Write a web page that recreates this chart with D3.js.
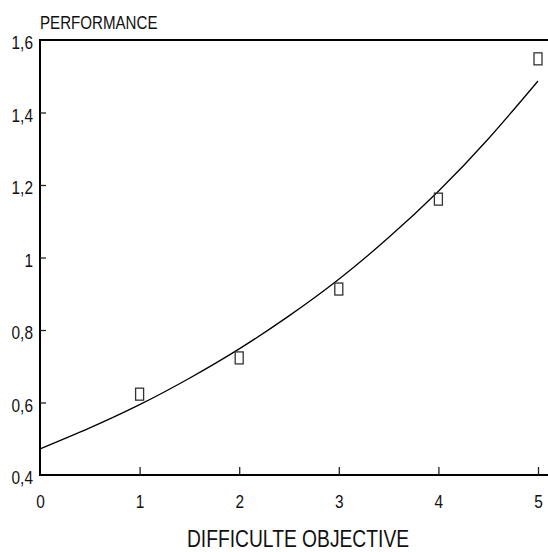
<!DOCTYPE html>
<html>
<head>
<meta charset="utf-8">
<script src="https://cdn.jsdelivr.net/npm/d3@7"></script>
<style>
  html, body { margin: 0; padding: 0; background: #fff; }
  svg { display: block; }
  text { font-family: "Liberation Sans", Arial, sans-serif; fill: #111; }
</style>
</head>
<body>
<div id="chart"></div>
<script>
// Observed performance for each objective difficulty level
const difficulty = [1, 2, 3, 4, 5];
const performance = [0.623, 0.723, 0.913, 1.161, 1.548];

// Fitted trend curve, sampled along the difficulty axis
const fitX = [0, 0.5, 1, 1.5, 2, 2.5, 3, 3.5, 4, 4.5, 5];
const fitY = [0.472, 0.530, 0.594, 0.667, 0.748, 0.839, 0.940, 1.055, 1.183, 1.327, 1.487];

// Axis ticks and their labels
const xTicks = [0, 1, 2, 3, 4, 5];
const xTickLabels = ["0", "1", "2", "3", "4", "5"];
const yTicks = [0.4, 0.6, 0.8, 1.0, 1.2, 1.4, 1.6];
const yTickLabels = ["0,4", "0,6", "0,8", "1", "1,2", "1,4", "1,6"];

const W = 548, H = 552;
const plot = { left: 40, right: 538, top: 40, bottom: 475 };

const svg = d3.select("#chart").append("svg")
  .attr("width", W).attr("height", H);

const x = d3.scaleLinear().domain([0, 5]).range([plot.left, plot.right]);
const y = d3.scaleLinear().domain([0.4, 1.6]).range([plot.bottom, plot.top]);

// Frame lines: left, bottom and top, running out to the page edge
const frame = svg.append("g").attr("stroke", "#000").attr("stroke-width", 2).attr("fill", "none");
frame.append("line").attr("x1", plot.left).attr("x2", plot.left).attr("y1", plot.top - 1).attr("y2", plot.bottom + 1);
frame.append("line").attr("x1", plot.left - 1).attr("x2", W).attr("y1", plot.bottom).attr("y2", plot.bottom);
frame.append("line").attr("x1", plot.left - 1).attr("x2", W).attr("y1", plot.top).attr("y2", plot.top);

// X axis: inward ticks, condensed labels below
const xAxis = d3.axisBottom(x)
  .tickValues(xTicks)
  .tickFormat((d, i) => xTickLabels[i])
  .tickSizeInner(0).tickSizeOuter(0).tickPadding(0);
const gx = svg.append("g").attr("transform", `translate(0,${plot.bottom})`).call(xAxis);
gx.select(".domain").remove();
gx.selectAll(".tick line")
  .attr("y1", 0).attr("y2", d => d === 0 ? 0 : -8)
  .attr("stroke", "#222").attr("stroke-width", 1.3);
gx.selectAll(".tick text")
  .attr("y", 33).attr("dy", null)
  .attr("transform", "scale(0.88,1)")
  .attr("font-size", 17.5).attr("fill", "#111");

// Y axis: inward ticks, condensed labels to the left
const yAxis = d3.axisLeft(y)
  .tickValues(yTicks)
  .tickFormat((d, i) => yTickLabels[i])
  .tickSizeInner(0).tickSizeOuter(0).tickPadding(0);
const gy = svg.append("g").attr("transform", `translate(${plot.left},0)`).call(yAxis);
gy.select(".domain").remove();
gy.selectAll(".tick line")
  .attr("x1", 0).attr("x2", d => (d > 0.45 && d < 1.55) ? 6 : 0)
  .attr("stroke", "#222").attr("stroke-width", 1.3);
gy.selectAll(".tick text")
  .attr("x", -8).attr("dy", "0.5em")
  .attr("transform", "scale(0.88,1)")
  .attr("font-size", 17.5).attr("fill", "#111");

// Axis titles, horizontally condensed
svg.append("text")
  .attr("transform", `translate(${plot.left},29) scale(0.84,1)`)
  .attr("font-size", 18)
  .text("PERFORMANCE");

svg.append("text")
  .attr("transform", "translate(298,547) scale(0.82,1)")
  .attr("text-anchor", "middle")
  .attr("font-size", 23.5)
  .text("DIFFICULTE OBJECTIVE");

// Trend curve
const line = d3.line()
  .x((d, i) => x(fitX[i]))
  .y(d => y(d))
  .curve(d3.curveNatural);
svg.append("path")
  .datum(fitY)
  .attr("d", line)
  .attr("fill", "none")
  .attr("stroke", "#000")
  .attr("stroke-width", 1.3);

// Observed points as open squares
svg.append("g").selectAll("rect")
  .data(difficulty)
  .join("rect")
  .attr("x", (d, i) => x(d) - 4)
  .attr("y", (d, i) => y(performance[i]) - 6)
  .attr("width", 8)
  .attr("height", 12)
  .attr("fill", "none")
  .attr("stroke", "#333")
  .attr("stroke-width", 1.3);
</script>
</body>
</html>
